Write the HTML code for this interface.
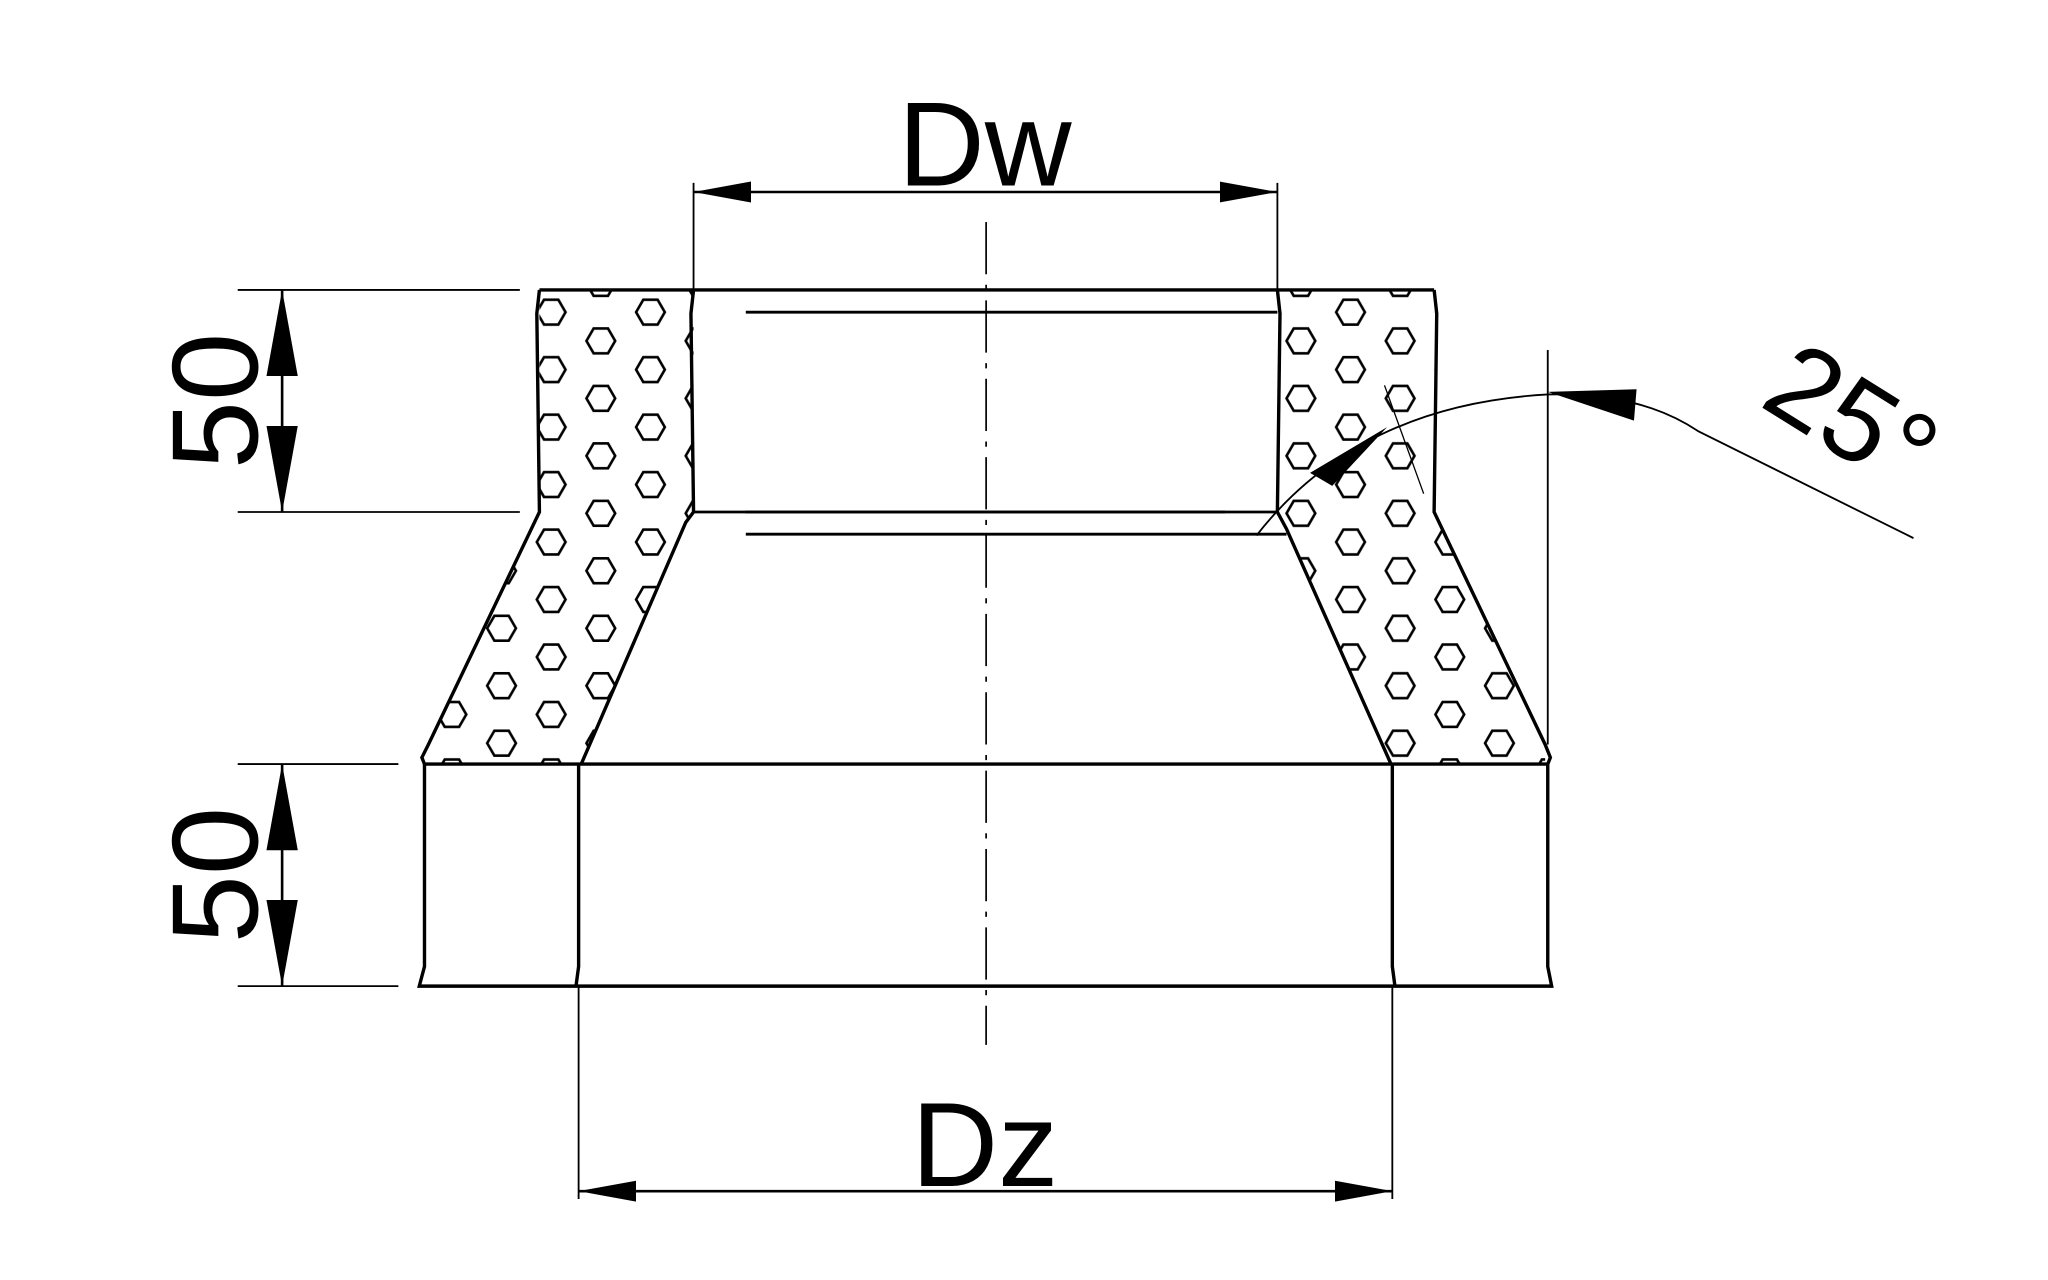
<!DOCTYPE html>
<html><head><meta charset="utf-8"><style>
html,body{margin:0;padding:0;background:#fff;}
svg{display:block;}
</style></head><body>
<svg width="2048" height="1280" viewBox="0 0 1568 980" xmlns="http://www.w3.org/2000/svg">
<defs>
<g id="hx"><polygon points="-11,0 -5.5,-9.5 5.5,-9.5 11,0 5.5,9.5 -5.5,9.5" fill="none" stroke="#000" stroke-width="2"/></g>
<pattern id="pl" patternUnits="userSpaceOnUse" x="422" y="239" width="76" height="44">
<use href="#hx" x="0" y="0"/><use href="#hx" x="76" y="0"/><use href="#hx" x="0" y="44"/><use href="#hx" x="76" y="44"/><use href="#hx" x="38" y="22"/>
</pattern>
<pattern id="pr" patternUnits="userSpaceOnUse" x="996" y="261" width="76" height="44">
<use href="#hx" x="0" y="0"/><use href="#hx" x="76" y="0"/><use href="#hx" x="0" y="44"/><use href="#hx" x="76" y="44"/><use href="#hx" x="38" y="22"/>
</pattern>
<marker id="ar" viewBox="0 0 44 16" refX="44" refY="8" markerWidth="44" markerHeight="16" markerUnits="userSpaceOnUse" orient="auto-start-reverse"><path d="M0,0 L44,8 L0,16 Z" fill="#000"/></marker>
<marker id="av" viewBox="0 0 66 24" refX="66" refY="12" markerWidth="66" markerHeight="24" markerUnits="userSpaceOnUse" orient="auto-start-reverse"><path d="M0,0 L66,12 L0,24 Z" fill="#000"/></marker>
</defs>
<path d="M413,222 L531,222 L531,392 L525,400 L445,585 L328,585 L328,570 L413,392 Z" fill="url(#pl)"/>
<path d="M978,222 L1098,222 L1098,392 L1183,570 L1183,585 L1065,585 L985,405 L978,392 Z" fill="url(#pr)"/>
<g fill="none" stroke="#000" stroke-width="2.6">
<path d="M413,222 L1098,222"/>
<path d="M413,222 L411,240 L413,392 L328,570 L323,580 L325,585"/>
<path d="M1098,222 L1100,240 L1098,392 L1183,570 L1187,580 L1185,585"/>
<path d="M531,222 L529,240 L531,392 L525,400 L445,585"/>
<path d="M978,222 L980,240 L978,392 L985,405 L1065,585"/>
<path d="M531,392 L978,392" stroke-width="2.2"/>
<path d="M325,585 L1185,585"/>
<path d="M325,585 L325,740 L321,755 L1188,755 L1185,740 L1185,585"/>
<path d="M443,585 L443,740 L441,755"/>
<path d="M1066,585 L1066,740 L1068,755"/>
</g>
<g stroke="#000" stroke-width="2.2" fill="none">
<path d="M571,239 L978,239"/>
<path d="M571,392 L938,392"/>
<path d="M571,409 L985,409"/>
</g>
<path d="M755,170 L755,800" stroke="#000" stroke-width="1.3" stroke-dasharray="40,8,4,8"/>
<g stroke="#000" stroke-width="1.4" fill="none">
<path d="M531,140 L531,222"/><path d="M978,140 L978,222"/>
<path d="M531,147 L978,147" marker-start="url(#ar)" marker-end="url(#ar)" stroke-width="2"/>
<path d="M443,755 L443,918"/><path d="M1066,755 L1066,918"/>
<path d="M443,912 L1066,912" marker-start="url(#ar)" marker-end="url(#ar)" stroke-width="2"/>
<path d="M182,222 L398,222"/><path d="M182,392 L398,392"/>
<path d="M216,222 L216,392" marker-start="url(#av)" marker-end="url(#av)" stroke-width="2"/>
<path d="M182,585 L305,585"/><path d="M182,755 L305,755"/>
<path d="M216,585 L216,755" marker-start="url(#av)" marker-end="url(#av)" stroke-width="2"/>
<path d="M1185,268 L1185,570"/>
<path d="M962,410 Q1040,310 1185,302 Q1255,300 1300,330 L1465,412"/>
<path d="M1060,295 L1090,378" stroke-width="1"/>
</g>
<path d="M1003,362 L1062,327 L1020,372 Z" fill="#000"/>
<path d="M1185,300 L1253,298 L1251,322 Z" fill="#000"/>
<g font-family="Liberation Sans, sans-serif" fill="#000">
<text x="754" y="142" font-size="92" text-anchor="middle">Dw</text>
<text x="754" y="908" font-size="92" text-anchor="middle">Dz</text>
<text transform="translate(197,307) rotate(-90)" font-size="94" text-anchor="middle">50</text>
<text transform="translate(197,670) rotate(-90)" font-size="94" text-anchor="middle">50</text>
<text transform="translate(1402,345) rotate(32)" font-size="88" text-anchor="middle">25°</text>
</g>
</svg>
</body></html>
